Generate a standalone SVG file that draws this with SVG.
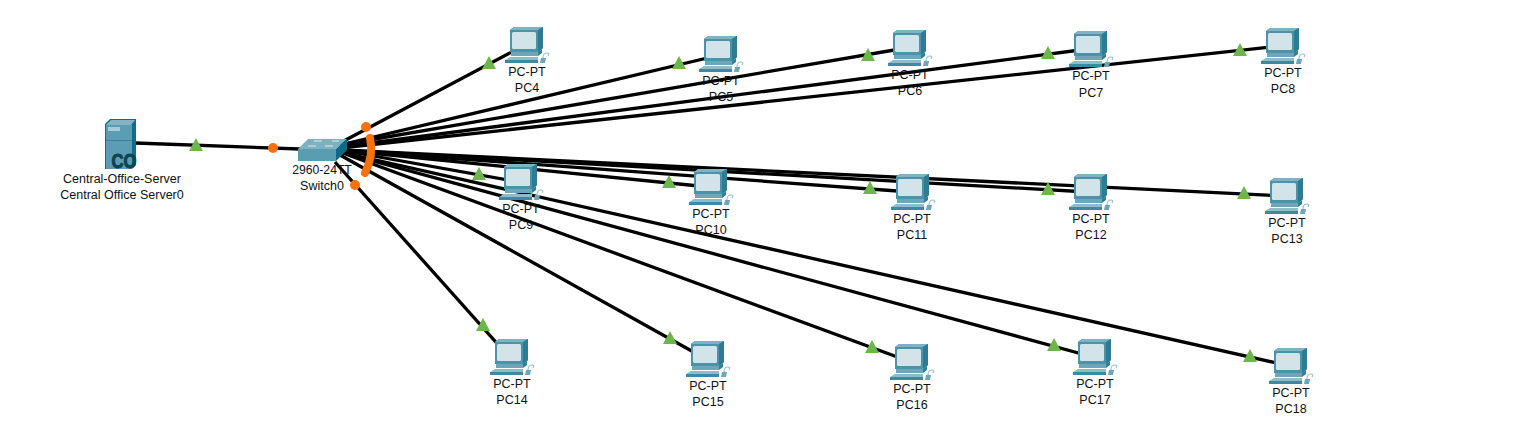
<svg xmlns="http://www.w3.org/2000/svg" width="1531" height="430" viewBox="0 0 1531 430">
<style>
.l{stroke:#000;stroke-width:3.3;fill:none}
.t{fill:#6cb64a}
.o{fill:#f5720f}
text{font-family:"Liberation Sans",Arial,sans-serif;font-size:12.5px;fill:#111;text-anchor:middle}
</style>
<defs>
<path id="tri" d="M0-7L7 6H-7Z"/>
<g id="pc">
<path fill="#2f7f97" d="M5 3L9 0H38V21L33 25H5Z"/>
<path fill="#7fb3c4" d="M5 3L9 0H38L33 3Z"/>
<rect x="5" y="3" width="28" height="22" fill="#4c93aa"/>
<rect x="7" y="5" width="24" height="17" rx="1.5" fill="#d3e3ea"/>
<path fill="#2e7c94" d="M33 3L38 0V21L33 25Z"/>
<path fill="#6ea5b8" d="M6 25H33V29H6Z"/>
<path fill="#2f7f97" d="M33 25L37 22V26L33 29Z"/>
<path fill="#8dbccb" d="M5 30H33V33H0Z"/>
<path fill="#3b8aa2" d="M0 33H33V36H0Z"/>
<path fill="#6ea5b8" d="M36 31H41L40 36H35Z"/>
<path fill="none" stroke="#9cc2cf" stroke-width="1.2" d="M38 31Q38 26 42 26Q45 26 43 29"/>
</g>
</defs>
<g id="connectors">
<path class="l" d="M135 143L300 149"/>
<path class="l" d="M340 143L525 45"/>
<path class="l" d="M340 145L720 55"/>
<path class="l" d="M340 145L906 48"/>
<path class="l" d="M340 147L1088 49"/>
<path class="l" d="M340 148L1280 46"/>
<path class="l" d="M340 150L519 182"/>
<path class="l" d="M340 150L709 187"/>
<path class="l" d="M340 150L911 192"/>
<path class="l" d="M340 150L1088 192"/>
<path class="l" d="M340 150L1285 196"/>
<path class="l" d="M335 162L510 358"/>
<path class="l" d="M340 155L706 359"/>
<path class="l" d="M340 152L911 362"/>
<path class="l" d="M340 152L1093 357"/>
<path class="l" d="M340 152L1290 366"/>
</g>
<g id="server">
<path fill="#0e6f8c" d="M105 124L110 119H136V165L132 169H105Z"/>
<path fill="#84b4c4" d="M106 125L111 120H135L131 125Z"/>
<rect x="106" y="125" width="26" height="44" fill="#5a9db5"/>
<rect x="106" y="140" width="26" height="1" fill="#3f7f96"/>
<rect x="108" y="127" width="12" height="4" fill="#a5ccd9"/>
<text x="124" y="168" style="font-size:21px;font-weight:bold;fill:#0f4350;stroke:#0f4350;stroke-width:1" textLength="25" lengthAdjust="spacingAndGlyphs">CO</text>
<text x="122" y="183">Central-Office-Server</text>
<text x="122" y="199">Central Office Server0</text>
</g>
<g id="switch">
<path fill="#7fb0bf" d="M298 149L308 139H347L336 149Z"/>
<path fill="#5a9db1" d="M298 149H336V161H298Z"/>
<path fill="#0d6a86" d="M336 149L347 139V150L336 161Z"/>
<path fill="none" stroke="#e4eef2" stroke-width="1.2" d="M314 141H322M332 141H339M308 146H316M325 146H333"/>
<text x="322" y="174" style="font-size:12.2px">2960-24TT</text>
<text x="322" y="190">Switch0</text>
</g>
<g id="pc4"><use href="#pc" x="505" y="27"/><text x="527" y="76">PC-PT</text><text x="527" y="92">PC4</text></g>
<g id="pc5"><use href="#pc" x="699" y="36"/><text x="721" y="85">PC-PT</text><text x="721" y="101">PC5</text></g>
<g id="pc6"><use href="#pc" x="888" y="30"/><text x="910" y="79">PC-PT</text><text x="910" y="95">PC6</text></g>
<g id="pc7"><use href="#pc" x="1069" y="31"/><text x="1091" y="80">PC-PT</text><text x="1091" y="97">PC7</text></g>
<g id="pc8"><use href="#pc" x="1261" y="28"/><text x="1283" y="77">PC-PT</text><text x="1283" y="93">PC8</text></g>
<g id="pc9"><use href="#pc" x="499" y="164"/><text x="521" y="213">PC-PT</text><text x="521" y="229">PC9</text></g>
<g id="pc10"><use href="#pc" x="689" y="169"/><text x="711" y="218">PC-PT</text><text x="711" y="234">PC10</text></g>
<g id="pc11"><use href="#pc" x="891" y="174"/><text x="912" y="223">PC-PT</text><text x="912" y="239">PC11</text></g>
<g id="pc12"><use href="#pc" x="1069" y="174"/><text x="1091" y="223">PC-PT</text><text x="1091" y="239">PC12</text></g>
<g id="pc13"><use href="#pc" x="1265" y="178"/><text x="1287" y="227">PC-PT</text><text x="1287" y="243">PC13</text></g>
<g id="pc14"><use href="#pc" x="490" y="339"/><text x="512" y="388">PC-PT</text><text x="512" y="404">PC14</text></g>
<g id="pc15"><use href="#pc" x="686" y="341"/><text x="708" y="390">PC-PT</text><text x="708" y="406">PC15</text></g>
<g id="pc16"><use href="#pc" x="890" y="344"/><text x="912" y="393">PC-PT</text><text x="912" y="409">PC16</text></g>
<g id="pc17"><use href="#pc" x="1073" y="339"/><text x="1095" y="388">PC-PT</text><text x="1095" y="404">PC17</text></g>
<g id="pc18"><use href="#pc" x="1269" y="348"/><text x="1291" y="397">PC-PT</text><text x="1291" y="413">PC18</text></g>
<g id="link-status">
<g class="t">
<use href="#tri" x="196" y="145"/><use href="#tri" x="489" y="63"/><use href="#tri" x="679" y="63"/><use href="#tri" x="868" y="55"/><use href="#tri" x="1048" y="53"/><use href="#tri" x="1240" y="50"/>
<use href="#tri" x="479" y="174"/><use href="#tri" x="669" y="182"/><use href="#tri" x="870" y="188"/><use href="#tri" x="1048" y="189"/><use href="#tri" x="1244" y="193"/>
<use href="#tri" x="483" y="325"/><use href="#tri" x="670" y="338"/><use href="#tri" x="872" y="347"/><use href="#tri" x="1054" y="345"/><use href="#tri" x="1250" y="356"/>
</g>
<g class="o"><circle cx="273" cy="148" r="5"/><circle cx="366" cy="127" r="5"/><circle cx="355" cy="185" r="5"/></g>
<path d="M370 138Q374 155 365 173" fill="none" stroke="#f5720f" stroke-width="8" stroke-linecap="round"/>
</g>
</svg>
